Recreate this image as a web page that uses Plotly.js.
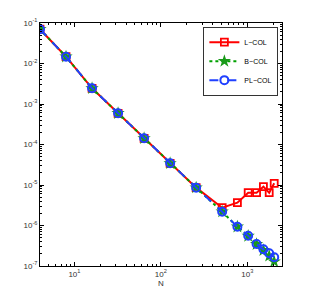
<!DOCTYPE html>
<html><head><meta charset="utf-8">
<script src="https://cdn.plot.ly/plotly-3.0.1.min.js"></script>
<style>html,body{margin:0;padding:0;background:#fff}#p{width:311px;height:299px}</style>
</head><body><div id="p"></div>
<script>
const N = [4, 8, 16, 32, 64, 128, 256, 512, 768, 1024, 1280, 1536, 1792, 2048];
const lcol = [0.07, 0.0147, 0.00244, 0.00059, 0.000142, 3.43e-5, 8.6e-6, 2.75e-6, 3.66e-6, 6.45e-6, 6.45e-6, 9.1e-6, 6.45e-6, 1.1e-5];
const bcol = [0.07, 0.0147, 0.00244, 0.00059, 0.000142, 3.43e-5, 8.6e-6, 2.19e-6, 9.3e-7, 5.5e-7, 3.45e-7, 2.45e-7, 1.77e-7, 1.28e-7];
const plcol = [0.07, 0.0147, 0.00244, 0.00059, 0.000142, 3.43e-5, 8.6e-6, 2.19e-6, 9.3e-7, 5.6e-7, 3.5e-7, 2.58e-7, 2.06e-7, 1.64e-7];
const yTickVals = [1e-7, 1e-6, 1e-5, 1e-4, 1e-3, 1e-2, 1e-1];
const yTickText = ['10<sup>-7</sup>','10<sup>-6</sup>','10<sup>-5</sup>','10<sup>-4</sup>','10<sup>-3</sup>','10<sup>-2</sup>','10<sup>-1</sup>'];
const xTickVals = [10, 100, 1000];
const xTickText = ['10<sup>1</sup>','10<sup>2</sup>','10<sup>3</sup>'];

const traces = [
  {x: N, y: lcol, name: 'L\u2212COL', mode: 'lines+markers',
   line: {color: '#ff0000', width: 2, dash: 'solid'},
   marker: {symbol: 'square-open', size: 7, color: '#ff0000', line: {width: 1.8, color: '#ff0000'}}},
  {x: N, y: bcol, name: 'B\u2212COL', mode: 'lines+markers',
   line: {color: '#00a000', width: 2, dash: 'dot'},
   marker: {symbol: 'star', size: 10, color: '#1a9a1a', line: {width: 0}}},
  {x: N, y: plcol, name: 'PL\u2212COL', mode: 'lines+markers',
   line: {color: '#2040ff', width: 2, dash: 'dash'},
   marker: {symbol: 'circle-open', size: 8, color: '#2040ff', line: {width: 2, color: '#2040ff'}}}
];
const axBase = {type: 'log', showline: true, linecolor: '#000', linewidth: 1, mirror: 'ticks',
  ticks: 'inside', ticklen: 4, tickcolor: '#000', showgrid: false, zeroline: false,
  tickfont: {family: 'Liberation Sans, Arial', size: 8, color: '#333'}};
const layout = {
  width: 311, height: 299, paper_bgcolor: '#fff', plot_bgcolor: '#fff',
  margin: {l: 40, r: 29, t: 23, b: 33},
  showlegend: true,
  legend: {x: 0.985, xanchor: 'right', y: 0.985, yanchor: 'top', bordercolor: '#333', borderwidth: 1,
    bgcolor: '#fff', font: {family: 'Liberation Sans, Arial', size: 7, color: '#000'},
    itemwidth: 30, tracegroupgap: 0},
  xaxis: Object.assign({}, axBase, {range: [Math.log10(4), Math.log10(2520)],
    tickvals: xTickVals, ticktext: xTickText,
    minor: {ticks: 'inside', ticklen: 2, tickcolor: '#000', dtick: 'D1', showgrid: false},
    title: {text: 'N', font: {family: 'Liberation Sans, Arial', size: 8, color: '#333'}, standoff: 2}}),
  yaxis: Object.assign({}, axBase, {range: [-7, -1],
    tickvals: yTickVals, ticktext: yTickText,
    minor: {ticks: 'inside', ticklen: 2, tickcolor: '#000', dtick: 'D1', showgrid: false}})
};
Plotly.newPlot('p', traces, layout, {displayModeBar: false, staticPlot: true});
</script></body></html>
